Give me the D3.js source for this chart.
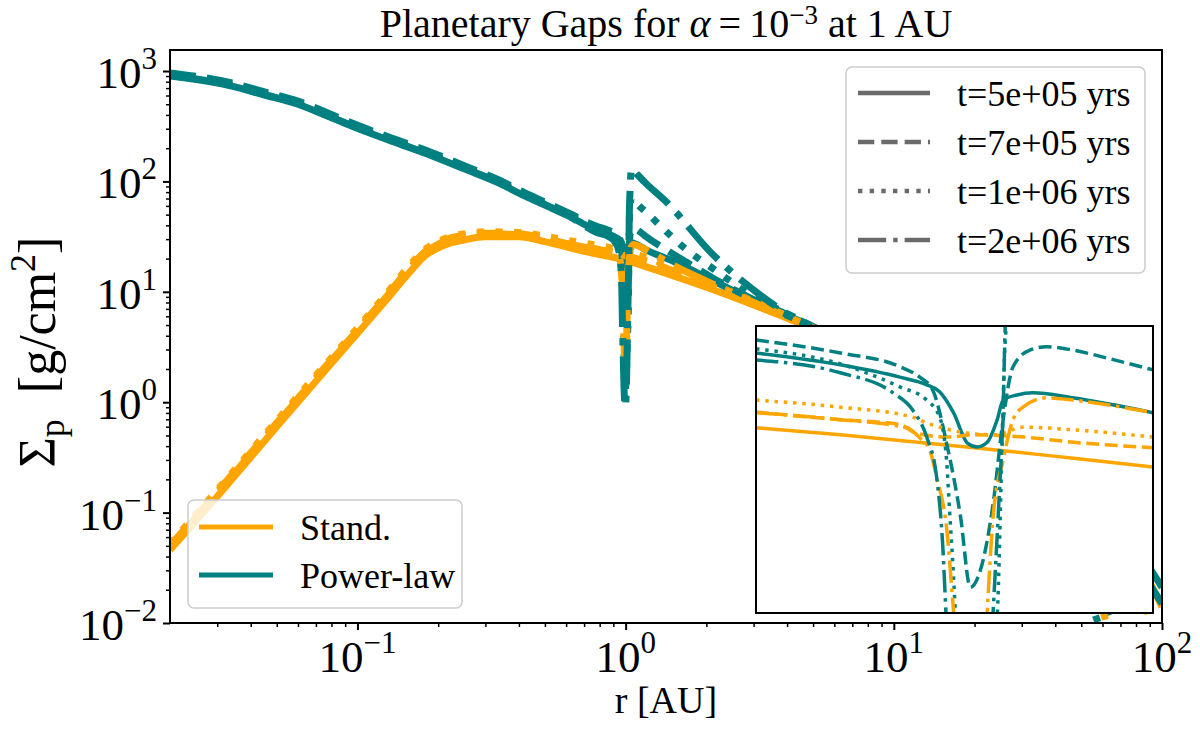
<!DOCTYPE html>
<html>
<head>
<meta charset="utf-8">
<script src="https://cdn.jsdelivr.net/npm/d3@7"></script>
<style>
    body { margin: 0; background: #fff; }
    text { font-family: "Liberation Serif", "Times New Roman", serif; fill: #000; }
</style>
</head>
<body>
<div id="chart"></div>
<script>
// [r in AU, Sigma_p in g/cm^2]
// Stand. model
var standT1 = [[0.02,0.046],[0.03,0.14],[0.05,0.6],[0.07,1.55],[0.1,4.2],[0.13,8.8],[0.16,16],[0.18,21.5],[0.2,25],[0.22,27.5],[0.25,29.5],[0.3,31.5],[0.4,31.5],[0.5,28.5],[0.62,25],[0.78,22],[0.865,21],[1.0,19.3],[1.1,18],[1.18,17],[1.5,14],[2,11],[3,7.6],[4.2,5.5],[6,3.8],[10,2],[15,1.15],[20,0.75],[30,0.4],[40,0.26],[60,0.1],[80,0.04],[100,0.014]];
var standT2 = [[0.02,0.05],[0.03,0.155],[0.05,0.65],[0.07,1.68],[0.1,4.5],[0.13,9.6],[0.16,17.5],[0.18,23.5],[0.2,27.5],[0.22,30.5],[0.25,32.5],[0.3,34],[0.4,33.5],[0.5,30.5],[0.62,27],[0.78,24.4],[0.865,23.2],[0.925,22.5],[0.94,21.3],[0.973,20.7],[1.0,21],[1.05,20.7],[1.1,20],[1.18,19.3],[1.5,15.5],[2,11.8],[3,8],[4.2,5.6],[6,3.7],[10,1.9],[15,1.1],[20,0.7],[30,0.34],[40,0.2],[60,0.07],[80,0.022],[95,0.008]];
var standT3 = [[0.02,0.052],[0.03,0.16],[0.05,0.68],[0.07,1.75],[0.1,4.7],[0.13,10],[0.16,18.5],[0.18,24.5],[0.2,28.5],[0.22,31.5],[0.25,33.5],[0.3,35],[0.4,34.5],[0.5,32],[0.62,29],[0.78,26.4],[0.865,25.2],[0.938,23.6],[0.952,22.7],[0.965,22.1],[0.99,21.3],[1.02,21],[1.05,22.1],[1.1,21.7],[1.18,20.7],[1.5,16.5],[2,12.3],[3,8.2],[4.2,5.7],[6,3.8],[10,1.9],[15,1.05],[20,0.65],[30,0.3],[40,0.17],[55,0.05],[70,0.008]];
var standT4 = [[0.02,0.049],[0.03,0.15],[0.05,0.64],[0.07,1.65],[0.1,4.45],[0.13,9.4],[0.16,17.2],[0.18,23],[0.2,27],[0.22,30],[0.25,32],[0.3,33.5],[0.4,33],[0.5,30],[0.62,26.8],[0.78,24.3],[0.865,23.2],[0.932,22],[0.945,20.6],[0.955,19],[0.962,15.9],[0.972,11.4],[0.979,6.6],[0.988,3],[0.997,1.7],[1.006,2.6],[1.013,6.6],[1.019,12.3],[1.029,17.8],[1.039,23.2],[1.049,25.2],[1.073,26.8],[1.099,26.4],[1.18,24.3],[1.5,17.5],[2,12.5],[3,8],[4.2,5.6],[6,3.6],[10,1.8],[15,1],[20,0.6],[30,0.25],[40,0.13],[55,0.03],[65,0.006]];

// Power-law model
var powerT1 = [[0.02,900],[0.034,730],[0.045,606],[0.06,500],[0.08,377],[0.106,286],[0.14,223],[0.19,170],[0.25,130],[0.334,97.5],[0.42,74],[0.5,61],[0.62,48],[0.78,36],[0.865,33.3],[0.925,30.7],[0.952,29.2],[0.965,27.9],[0.979,24.3],[0.993,19.9],[1.003,19.4],[1.013,20],[1.023,23.2],[1.029,26.4],[1.043,27.3],[1.059,27.7],[1.099,26.8],[1.18,24.3],[1.5,19],[2,13.5],[3,8.3],[4.2,5.8],[6,3.9],[10,2.1],[15,1.2],[20,0.8],[30,0.42],[40,0.27],[60,0.11],[80,0.048],[100,0.021]];
var powerT2 = [[0.02,960],[0.034,780],[0.045,648],[0.06,535],[0.08,403],[0.106,306],[0.14,238],[0.19,182],[0.25,139],[0.334,104],[0.42,79],[0.5,65],[0.62,51],[0.78,39.2],[0.865,36],[0.925,32.9],[0.945,30.7],[0.958,28.2],[0.972,19.9],[0.986,12.3],[0.996,7.7],[1.006,8.6],[1.019,13.4],[1.029,23.2],[1.039,32.9],[1.056,36.7],[1.073,37.5],[1.099,36.7],[1.134,34.8],[1.18,32.2],[1.46,23],[1.69,18.5],[2.15,13],[3,8.5],[4.2,5.9],[6,3.9],[10,2],[15,1.15],[20,0.75],[30,0.38],[40,0.24],[60,0.085],[80,0.034],[100,0.015]];
var powerT3 = [[0.02,920],[0.034,745],[0.045,620],[0.06,510],[0.08,385],[0.106,292],[0.14,228],[0.19,174],[0.25,133],[0.334,100],[0.42,76],[0.5,63],[0.62,49.5],[0.78,37],[0.865,33.5],[0.925,28.8],[0.952,26.4],[0.965,23.6],[0.972,17.8],[0.975,12.8],[0.979,8.3],[0.985,3.5],[0.992,1.6],[0.998,1.3],[1.006,1.8],[1.015,3.8],[1.023,6.3],[1.028,19.9],[1.031,38.5],[1.04,62],[1.055,73],[1.09,65],[1.2,52],[1.36,38.7],[1.69,24],[2.15,15.8],[3,9],[4.2,6],[6,3.8],[10,1.8],[15,0.95],[20,0.55],[30,0.22],[40,0.1],[55,0.028],[68,0.007]];
var powerT4 = [[0.02,910],[0.034,740],[0.045,615],[0.06,505],[0.08,382],[0.106,290],[0.14,226],[0.19,172],[0.25,132],[0.334,99],[0.42,75],[0.5,62],[0.62,48],[0.78,34.4],[0.865,31.6],[0.918,27.7],[0.938,24.7],[0.952,20.7],[0.962,15.9],[0.968,10.3],[0.972,6],[0.98,2.5],[0.989,1.15],[0.997,0.9],[1.006,1.3],[1.013,3],[1.019,6.6],[1.025,14],[1.029,24.7],[1.031,42.1],[1.038,80],[1.046,118],[1.053,131],[1.1,117],[1.18,98],[1.42,65],[2.09,22.4],[3.24,9],[4.19,5.9],[6,3.6],[10,1.7],[15,0.85],[20,0.45],[30,0.16],[40,0.07],[52,0.02],[62,0.006]];

var timeLabels = ["t=5e+05 yrs", "t=7e+05 yrs", "t=1e+06 yrs", "t=2e+06 yrs"];
var timeStyles = ["solid", "dashed", "dotted", "dashdot"];
var modelLabels = ["Stand.", "Power-law"];
var modelColors = ["#ffa500", "#008080"];
var xTickExp = [-1, 0, 1, 2];
var yTickExp = [-2, -1, 0, 1, 2, 3];

// plot order: for each time, Stand. then Power-law
var series = [
    { data: standT1, model: 0, time: 0 }, { data: powerT1, model: 1, time: 0 },
    { data: standT2, model: 0, time: 1 }, { data: powerT2, model: 1, time: 1 },
    { data: standT3, model: 0, time: 2 }, { data: powerT3, model: 1, time: 2 },
    { data: standT4, model: 0, time: 3 }, { data: powerT4, model: 1, time: 3 }
];

// matplotlib-like dash patterns, scaled with line width
function dashFor(style, lw) {
    if (style === "dashed") return [3.7 * lw, 1.6 * lw].join(",");
    if (style === "dotted") return [1 * lw, 1.65 * lw].join(",");
    if (style === "dashdot") return [6.4 * lw, 1.6 * lw, 1 * lw, 1.6 * lw].join(",");
    return null;
}

function supLabel(sel, exp, supSize, rise) {
    sel.append("tspan").text("10");
    sel.append("tspan")
        .attr("dy", -rise)
        .attr("font-size", supSize)
        .text(exp < 0 ? "\u2212" + (-exp) : String(exp));
}

var W = 1200, H = 730;
var plot = { left: 170, right: 1162, top: 50, bottom: 623 };
var inset = { left: 756, right: 1153, top: 326, bottom: 613 };
var lwMain = 7, lwInset = 3.5;

var svg = d3.select("#chart")
    .append("svg")
    .attr("width", W)
    .attr("height", H)
    .style("background", "#fff");

var defs = svg.append("defs");
defs.append("clipPath").attr("id", "clipMain")
    .append("rect")
    .attr("x", plot.left).attr("y", plot.top)
    .attr("width", plot.right - plot.left).attr("height", plot.bottom - plot.top);
defs.append("clipPath").attr("id", "clipInset")
    .append("rect")
    .attr("x", inset.left).attr("y", inset.top)
    .attr("width", inset.right - inset.left).attr("height", inset.bottom - inset.top);

// scales
var x = d3.scaleLog().domain([0.02, 100]).range([plot.left, plot.right]);
var y = d3.scaleLog().domain([0.01, 1550]).range([plot.bottom, plot.top]);

// inset zooms onto the gap at 1 AU
var ix = d3.scaleLinear().domain([0.78, 1.18]).range([inset.left, inset.right]);
var iy = d3.scaleLog().domain([6.5, 43]).range([inset.bottom, inset.top]);

// Add the lines
var mainLine = d3.line()
    .x(function (d) { return x(d[0]); })
    .y(function (d) { return y(d[1]); })
    .curve(d3.curveMonotoneX);

svg.append("g")
    .attr("clip-path", "url(#clipMain)")
    .selectAll("path")
    .data(series)
    .enter()
    .append("path")
    .attr("d", function (d) { return mainLine(d.data); })
    .attr("fill", "none")
    .attr("stroke", function (d) { return modelColors[d.model]; })
    .attr("stroke-width", lwMain)
    .attr("stroke-dasharray", function (d) { return dashFor(timeStyles[d.time], lwMain); });

// minor ticks
var minorX = [], minorY = [];
for (var e = -2; e <= 3; e++) {
    for (var m = 2; m <= 9; m++) {
        var v = m * Math.pow(10, e);
        if (v > 0.02 && v < 100) minorX.push(v);
        if (v > 0.01 && v < 1550) minorY.push(v);
    }
}

// X axis
svg.append("g")
    .attr("transform", "translate(0," + plot.bottom + ")")
    .call(d3.axisBottom(x).tickValues(xTickExp.map(function (k) { return Math.pow(10, k); }))
        .tickSize(7).tickFormat(""))
    .call(function (g) { g.select(".domain").remove(); g.selectAll("line").attr("stroke-width", 2); });
svg.append("g")
    .attr("transform", "translate(0," + plot.bottom + ")")
    .call(d3.axisBottom(x).tickValues(minorX).tickSize(4).tickFormat(""))
    .call(function (g) { g.select(".domain").remove(); g.selectAll("line").attr("stroke-width", 1.5); });

// Y axis
svg.append("g")
    .attr("transform", "translate(" + plot.left + ",0)")
    .call(d3.axisLeft(y).tickValues(yTickExp.map(function (k) { return Math.pow(10, k); }))
        .tickSize(7).tickFormat(""))
    .call(function (g) { g.select(".domain").remove(); g.selectAll("line").attr("stroke-width", 2); });
svg.append("g")
    .attr("transform", "translate(" + plot.left + ",0)")
    .call(d3.axisLeft(y).tickValues(minorY).tickSize(4).tickFormat(""))
    .call(function (g) { g.select(".domain").remove(); g.selectAll("line").attr("stroke-width", 1.5); });

// tick labels
xTickExp.forEach(function (k) {
    var t = svg.append("text")
        .attr("x", x(Math.pow(10, k)))
        .attr("y", 672)
        .attr("text-anchor", "middle")
        .attr("font-size", 45);
    supLabel(t, k, 31, 19);
});
yTickExp.forEach(function (k) {
    var t = svg.append("text")
        .attr("x", 157)
        .attr("y", y(Math.pow(10, k)) + 17)
        .attr("text-anchor", "end")
        .attr("font-size", 45);
    supLabel(t, k, 31, 19);
});

// frame
svg.append("rect")
    .attr("x", plot.left).attr("y", plot.top)
    .attr("width", plot.right - plot.left).attr("height", plot.bottom - plot.top)
    .attr("fill", "none").attr("stroke", "#000").attr("stroke-width", 2);

// axis labels and title
svg.append("text")
    .attr("x", (plot.left + plot.right) / 2)
    .attr("y", 713)
    .attr("text-anchor", "middle")
    .attr("font-size", 38)
    .text("r [AU]");

var yl = svg.append("text")
    .attr("transform", "translate(55,352) rotate(-90)")
    .attr("text-anchor", "middle")
    .attr("font-size", 52);
yl.append("tspan").text("\u03A3");
yl.append("tspan").attr("font-size", 36).attr("dy", 9).text("p");
yl.append("tspan").attr("dy", -9).text("\u2002[g/cm");
yl.append("tspan").attr("font-size", 36).attr("dy", -20).text("2");
yl.append("tspan").attr("dy", 20).text("]");

var title = svg.append("text")
    .attr("x", (plot.left + plot.right) / 2)
    .attr("y", 37)
    .attr("text-anchor", "middle")
    .attr("font-size", 40);
title.append("tspan").text("Planetary Gaps for ");
title.append("tspan").attr("font-style", "italic").text("\u03B1");
title.append("tspan").text("\u2009=\u200910");
title.append("tspan").attr("font-size", 27).attr("dy", -13).text("\u22123");
title.append("tspan").attr("dy", 13).text(" at 1 AU");

// inset
svg.append("rect")
    .attr("x", inset.left).attr("y", inset.top)
    .attr("width", inset.right - inset.left).attr("height", inset.bottom - inset.top)
    .attr("fill", "#fff");

var insetLine = d3.line()
    .x(function (d) { return ix(d[0]); })
    .y(function (d) { return iy(d[1]); })
    .curve(d3.curveMonotoneX);

svg.append("g")
    .attr("clip-path", "url(#clipInset)")
    .selectAll("path")
    .data(series)
    .enter()
    .append("path")
    .attr("d", function (d) { return insetLine(d.data.filter(function (p) { return p[0] > 0.7 && p[0] < 1.3; })); })
    .attr("fill", "none")
    .attr("stroke", function (d) { return modelColors[d.model]; })
    .attr("stroke-width", lwInset)
    .attr("stroke-dasharray", function (d) { return dashFor(timeStyles[d.time], lwInset); });

svg.append("rect")
    .attr("x", inset.left).attr("y", inset.top)
    .attr("width", inset.right - inset.left).attr("height", inset.bottom - inset.top)
    .attr("fill", "none").attr("stroke", "#000").attr("stroke-width", 2);

// legend: times
var lt = svg.append("g");
lt.append("rect")
    .attr("x", 846).attr("y", 67).attr("width", 299).attr("height", 206)
    .attr("rx", 6)
    .attr("fill", "#fff").attr("fill-opacity", 0.8)
    .attr("stroke", "#cccccc").attr("stroke-width", 1.5);
timeLabels.forEach(function (lab, i) {
    var ly = 93 + i * 49;
    lt.append("line")
        .attr("x1", 858).attr("x2", 930).attr("y1", ly).attr("y2", ly)
        .attr("stroke", "#6a6a6a").attr("stroke-width", 4.4)
        .attr("stroke-dasharray", dashFor(timeStyles[i], 4.4));
    lt.append("text")
        .attr("x", 957).attr("y", ly + 12.5)
        .attr("font-size", 36)
        .text(lab);
});

// legend: models
var lm = svg.append("g");
lm.append("rect")
    .attr("x", 188).attr("y", 500).attr("width", 274).attr("height", 108)
    .attr("rx", 6)
    .attr("fill", "#fff").attr("fill-opacity", 0.8)
    .attr("stroke", "#cccccc").attr("stroke-width", 1.5);
modelLabels.forEach(function (lab, i) {
    var ly = 527 + i * 48;
    lm.append("line")
        .attr("x1", 199).attr("x2", 273).attr("y1", ly).attr("y2", ly)
        .attr("stroke", modelColors[i]).attr("stroke-width", 5);
    lm.append("text")
        .attr("x", 300).attr("y", ly + 12.5)
        .attr("font-size", 36)
        .text(lab);
});
</script>
</body>
</html>
